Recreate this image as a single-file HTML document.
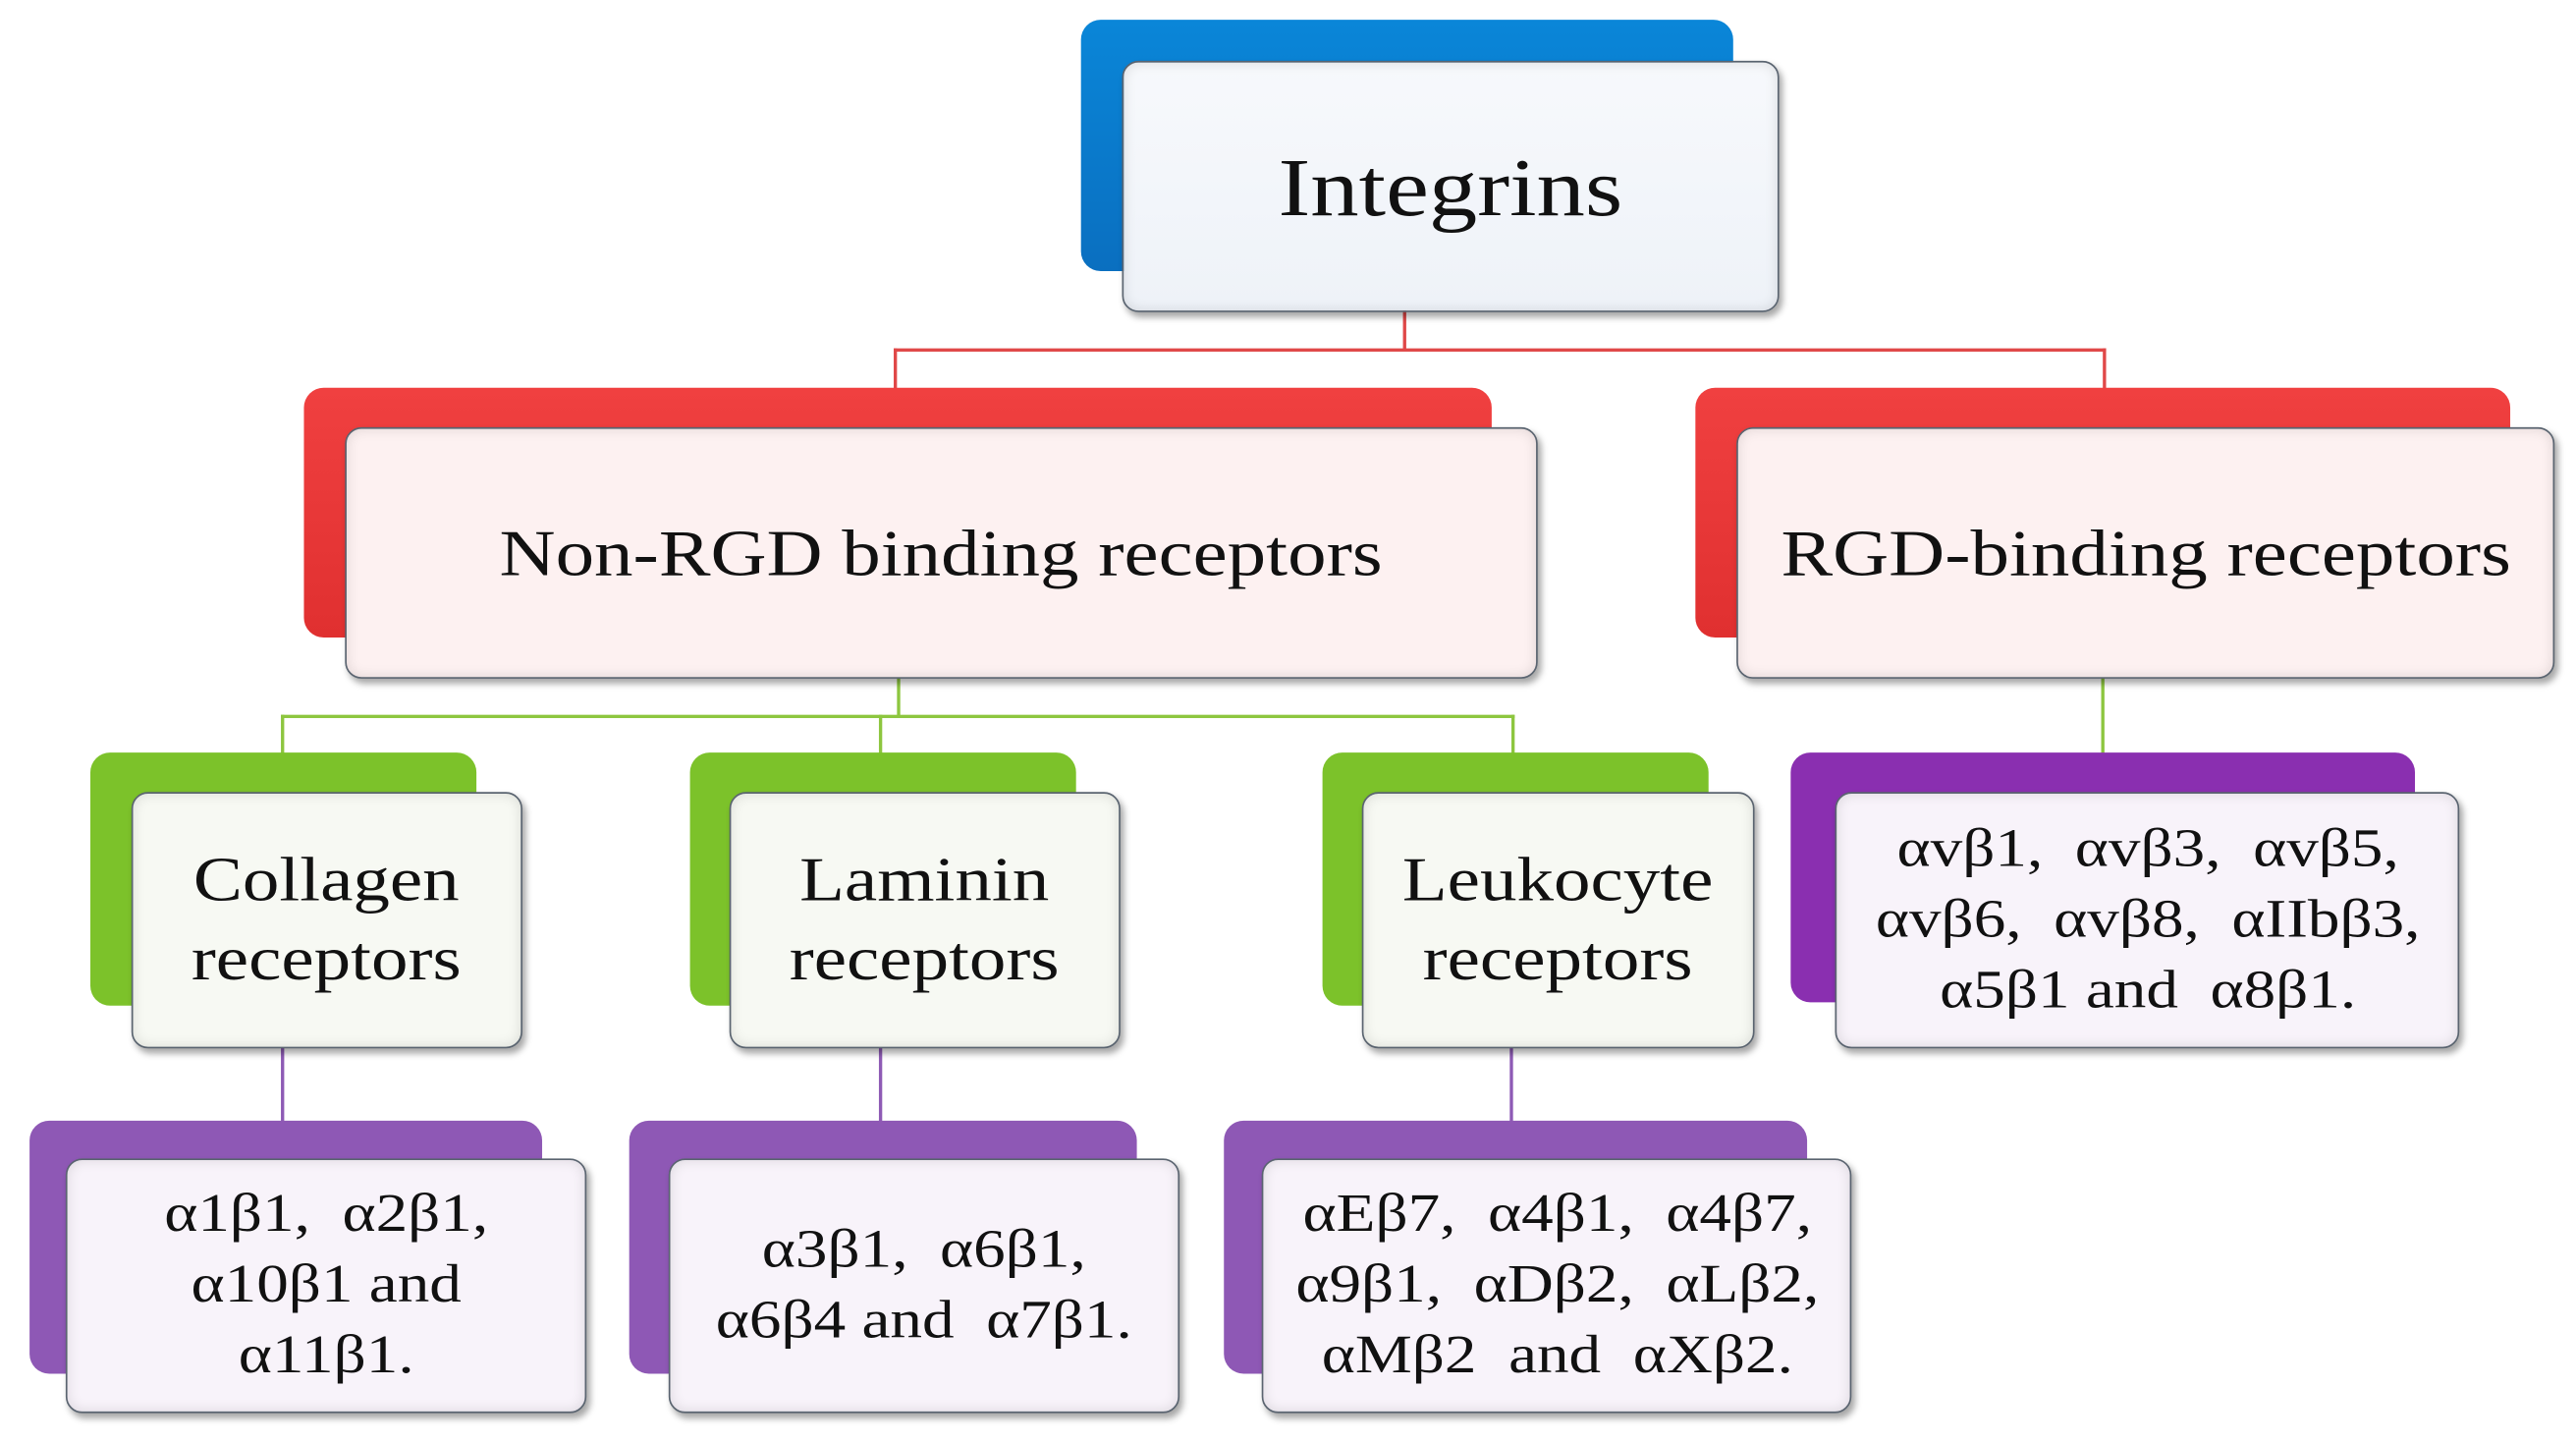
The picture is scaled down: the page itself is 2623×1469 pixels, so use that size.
<!DOCTYPE html>
<html><head><meta charset="utf-8"><style>
html,body{margin:0;padding:0;background:#fff;}
body{width:2623px;height:1469px;overflow:hidden;position:relative;}
#c{position:absolute;left:0;top:0;width:1568px;height:878px;transform:scale(1.6728);transform-origin:0 0;}
.b{position:absolute;border-radius:12px;}
.f{position:absolute;border-radius:10px;border:1.5px solid #5a6470;box-shadow:2px 3px 4px rgba(0,0,0,.35), inset 0 0 8px rgba(0,0,0,.12);display:flex;align-items:center;justify-content:center;text-align:center;font-family:"Liberation Serif",serif;color:#111;box-sizing:border-box;}
.f span{display:inline-block;transform:scaleX(1.18);white-space:nowrap;}
.l{position:absolute;}
</style></head><body><div id="c">
<div class="l" style="left:854px;top:185px;width:2px;height:28px;background:#e04848"></div>
<div class="l" style="left:544px;top:212px;width:738px;height:2px;background:#e04848"></div>
<div class="l" style="left:544px;top:212px;width:2px;height:26px;background:#e04848"></div>
<div class="l" style="left:1280px;top:212px;width:2px;height:26px;background:#e04848"></div>
<div class="l" style="left:546px;top:410px;width:2px;height:26px;background:#8dc63f"></div>
<div class="l" style="left:171px;top:435px;width:751px;height:2px;background:#8dc63f"></div>
<div class="l" style="left:171px;top:435px;width:2px;height:24px;background:#8dc63f"></div>
<div class="l" style="left:535px;top:435px;width:2px;height:24px;background:#8dc63f"></div>
<div class="l" style="left:920px;top:435px;width:2px;height:24px;background:#8dc63f"></div>
<div class="l" style="left:1279px;top:410px;width:2px;height:50px;background:#8dc63f"></div>
<div class="l" style="left:171px;top:636px;width:2px;height:47px;background:#8e5bb5"></div>
<div class="l" style="left:535px;top:636px;width:2px;height:47px;background:#8e5bb5"></div>
<div class="l" style="left:919px;top:636px;width:2px;height:47px;background:#8e5bb5"></div>

<div class="b" style="left:658px;top:12px;width:397px;height:153px;background:linear-gradient(#0a86d8,#0a6fc0);"></div>
<div class="f" style="left:683px;top:37px;width:400px;height:153px;background:linear-gradient(#f7f9fc,#eef2f8);font-size:50px;"><span>Integrins</span></div>

<div class="b" style="left:185px;top:236px;width:723px;height:152px;background:linear-gradient(#f04040,#e03030);"></div>
<div class="f" style="left:210px;top:260px;width:726px;height:153px;background:#fdf1f1;font-size:40px;"><span>Non-RGD binding receptors</span></div>
<div class="b" style="left:1032px;top:236px;width:496px;height:152px;background:linear-gradient(#f04040,#e03030);"></div>
<div class="f" style="left:1057px;top:260px;width:498px;height:153px;background:#fdf1f1;font-size:40px;"><span>RGD-binding receptors</span></div>

<div class="b" style="left:55px;top:458px;width:235px;height:154px;background:#7cc22a;"></div>
<div class="f" style="left:80px;top:482px;width:238px;height:156px;background:#f7f9f3;font-size:38px;line-height:48px;"><span>Collagen<br>receptors</span></div>
<div class="b" style="left:420px;top:458px;width:235px;height:154px;background:#7cc22a;"></div>
<div class="f" style="left:444px;top:482px;width:238px;height:156px;background:#f7f9f3;font-size:38px;line-height:48px;"><span>Laminin<br>receptors</span></div>
<div class="b" style="left:805px;top:458px;width:235px;height:154px;background:#7cc22a;"></div>
<div class="f" style="left:829px;top:482px;width:239px;height:156px;background:#f7f9f3;font-size:38px;line-height:48px;"><span>Leukocyte<br>receptors</span></div>

<div class="b" style="left:1090px;top:458px;width:380px;height:152px;background:#8a2fb0;"></div>
<div class="f" style="left:1117px;top:482px;width:380px;height:156px;background:#f8f3fa;font-size:33px;line-height:43px;"><span>αvβ1, &nbsp;αvβ3, &nbsp;αvβ5,<br>αvβ6, &nbsp;αvβ8, &nbsp;αIIbβ3,<br>α5β1 and &nbsp;α8β1.</span></div>

<div class="b" style="left:18px;top:682px;width:312px;height:154px;background:#8e58b5;"></div>
<div class="f" style="left:40px;top:705px;width:317px;height:155px;background:#f8f3fa;font-size:33px;line-height:43px;"><span>α1β1, &nbsp;α2β1,<br>α10β1 and<br>α11β1.</span></div>
<div class="b" style="left:383px;top:682px;width:309px;height:154px;background:#8e58b5;"></div>
<div class="f" style="left:407px;top:705px;width:311px;height:155px;background:#f8f3fa;font-size:33px;line-height:43px;"><span>α3β1, &nbsp;α6β1,<br>α6β4 and &nbsp;α7β1.</span></div>
<div class="b" style="left:745px;top:682px;width:355px;height:154px;background:#8e58b5;"></div>
<div class="f" style="left:768px;top:705px;width:359px;height:155px;background:#f8f3fa;font-size:33px;line-height:43px;"><span>αEβ7, &nbsp;α4β1, &nbsp;α4β7,<br>α9β1, &nbsp;αDβ2, &nbsp;αLβ2,<br>αMβ2 &nbsp;and &nbsp;αXβ2.</span></div>
</div></body></html>
